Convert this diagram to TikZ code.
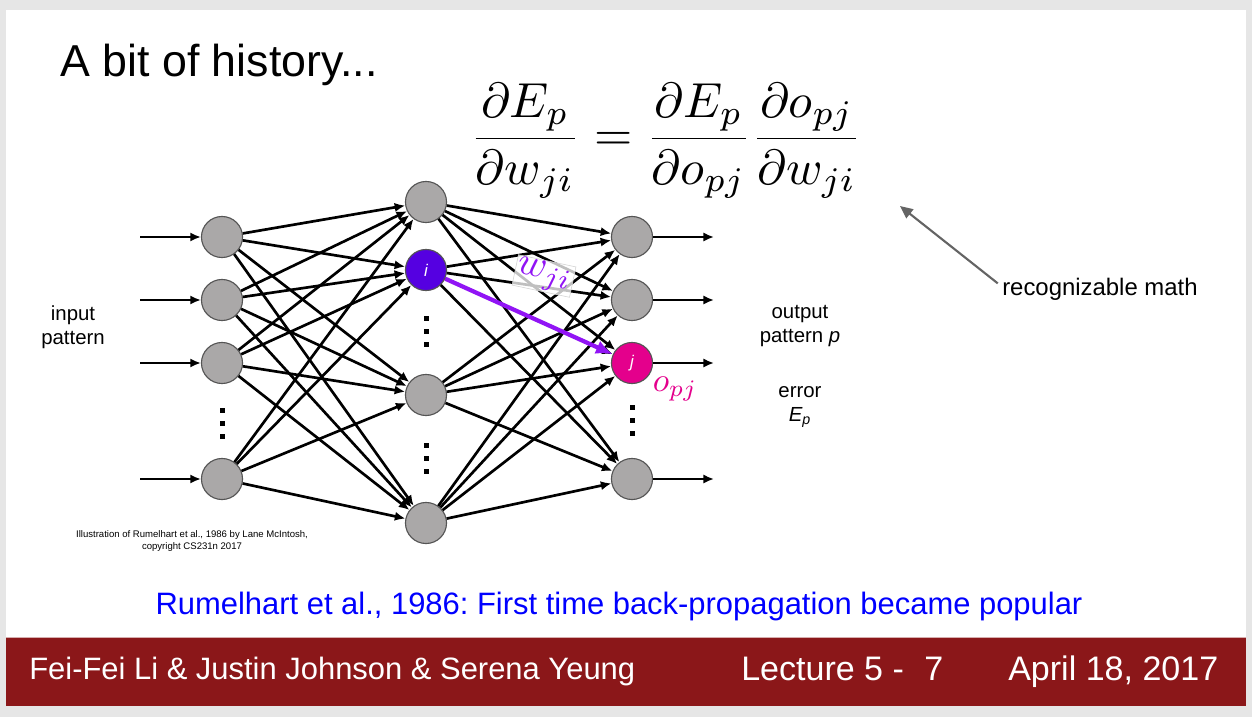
\documentclass[tikz,border=0pt]{standalone}
\usepackage{amsmath}
\usepackage{graphicx}
\usepackage{fontspec}
\setmainfont{Liberation Sans}
\usetikzlibrary{arrows.meta,positioning}
\definecolor{slideGray}{RGB}{230,230,230}
\definecolor{slideRed}{RGB}{139,23,25}
\definecolor{cellGray}{RGB}{170,168,168}
\definecolor{cellEdge}{RGB}{85,85,85}
\definecolor{unitBlue}{RGB}{85,0,225}
\definecolor{unitPink}{RGB}{228,0,140}
\definecolor{wireViolet}{RGB}{145,20,245}
\definecolor{noteGray}{RGB}{100,100,100}
\definecolor{capBlue}{RGB}{0,0,255}
\newcommand{\fsz}[1]{\fontsize{#1}{1.2\dimexpr#1pt\relax}\selectfont}
\frenchspacing

\tikzset{
  unit/.style={circle,draw=cellEdge,line width=0.8pt,fill=cellGray,minimum size=29.2pt,inner sep=0pt},
  wire/.style={line width=1.9pt,-{Latex[length=7.5pt,width=6.5pt]}},
  txt/.style={inner sep=0pt},
  tag/.style={text=white,font=\fsz{12}\itshape}
}

\begin{document}
\begin{tikzpicture}[x=0.025cm,y=-0.025cm]
\fill[slideGray] (0,0) rectangle (1252,717);
\fill[white] (6,10) rectangle (1246,637);
\fill[slideRed] (6,637) rectangle (1246,706);
\draw[slideRed!35,line width=0.6pt] (6,637) -- (1246,637);

\node[txt,anchor=base west,font=\fsz{31.8}] (title) at (60,76) {A bit of history...};
\node[txt] (eqn) at (666,141) {\scalebox{3.5}{$\displaystyle\frac{\partial E_p}{\partial w_{ji}}=\frac{\partial E_p}{\partial o_{pj}}\frac{\partial o_{pj}}{\partial w_{ji}}$}};

% layers
\foreach \k/\y in {1/237,2/300,3/363,4/479} {
  \node[unit] (in\k) at (222,\y) {};
  \coordinate (src\k) at (140,\y);
  \coordinate (snk\k) at (714,\y);
}
\foreach \k/\y in {1/202,3/395,4/523}
  \node[unit] (hid\k) at (426,\y) {};
\node[unit,fill=unitBlue] (hid2) at (426,270) {};
\foreach \k/\y in {1/237,2/300,4/479}
  \node[unit] (out\k) at (632,\y) {};
\node[unit,fill=unitPink] (out3) at (632,363) {};
\node[tag] (itag) at (hid2) {i};
\node[tag] (jtag) at (out3) {j};

\foreach \x/\y in {222/410,426/318,426/445,632/407}
  \foreach \d in {0,13,26}
    \fill (\x-2.5,\y+\d-2.5) rectangle (\x+2.5,\y+\d+2.5);

\foreach \a in {1,...,4} {
  \draw[wire] (src\a) -- (in\a);
  \draw[wire] (out\a) -- (snk\a);
  \foreach \b in {1,...,4} {
    \draw[wire] (in\a) -- (hid\b);
    \draw[wire] (hid\a) -- (out\b);
  }
}
\draw[wireViolet,line width=3pt,-{Latex[length=12pt,width=10pt]}] (hid2) -- (out3);

\node[rotate=-12,fill=white,fill opacity=0.75,text opacity=1,draw=gray!35,inner sep=1pt,text=wireViolet] (wlab) at (544,276) {\scalebox{2.8}{$w_{ji}$}};
\node[txt,text=unitPink] (olab) at (675,389) {\scalebox{2.4}{$o_{pj}$}};

\node[txt,align=center,font=\fsz{14.5}] (inlab) at (73,327) {input\\pattern};
\node[txt,align=center,font=\fsz{14.5}] (outlab) at (800,326) {output\\pattern \textit{p}};
\node[txt,align=center,font=\fsz{14.5}] (errlab) at (800,407) {error\\\textit{E\textsubscript{p}}};

\node[txt,anchor=west,font=\fsz{17}] (rmath) at (1002,289) {recognizable math};
\coordinate (mathtip) at (900,206);
\draw[noteGray,line width=1.5pt,-{Triangle[length=9pt,width=8pt]}] ([xshift=-3pt,yshift=4pt]rmath.west) -- (mathtip);

\node[txt,align=center,font=\fsz{6.8}] (credit) at (192,541) {Illustration of Rumelhart et al., 1986 by Lane McIntosh,\\copyright CS231n 2017};
\node[txt,text=capBlue,font=\fsz{22}] (cap) at (619,606) {Rumelhart et al., 1986: First time back-propagation became popular};

\node[txt,anchor=base west,text=white,font=\fsz{22}] (authors) at (29,679) {Fei-Fei Li \& Justin Johnson \& Serena Yeung};
\node[txt,anchor=base west,text=white,font=\fsz{24.2}] (lecture) at (741,680) {Lecture 5 -\hspace{0.6em}7};
\node[txt,anchor=base west,text=white,font=\fsz{24.2}] (date) at (1008,680) {April 18, 2017};
\end{tikzpicture}
\end{document}
